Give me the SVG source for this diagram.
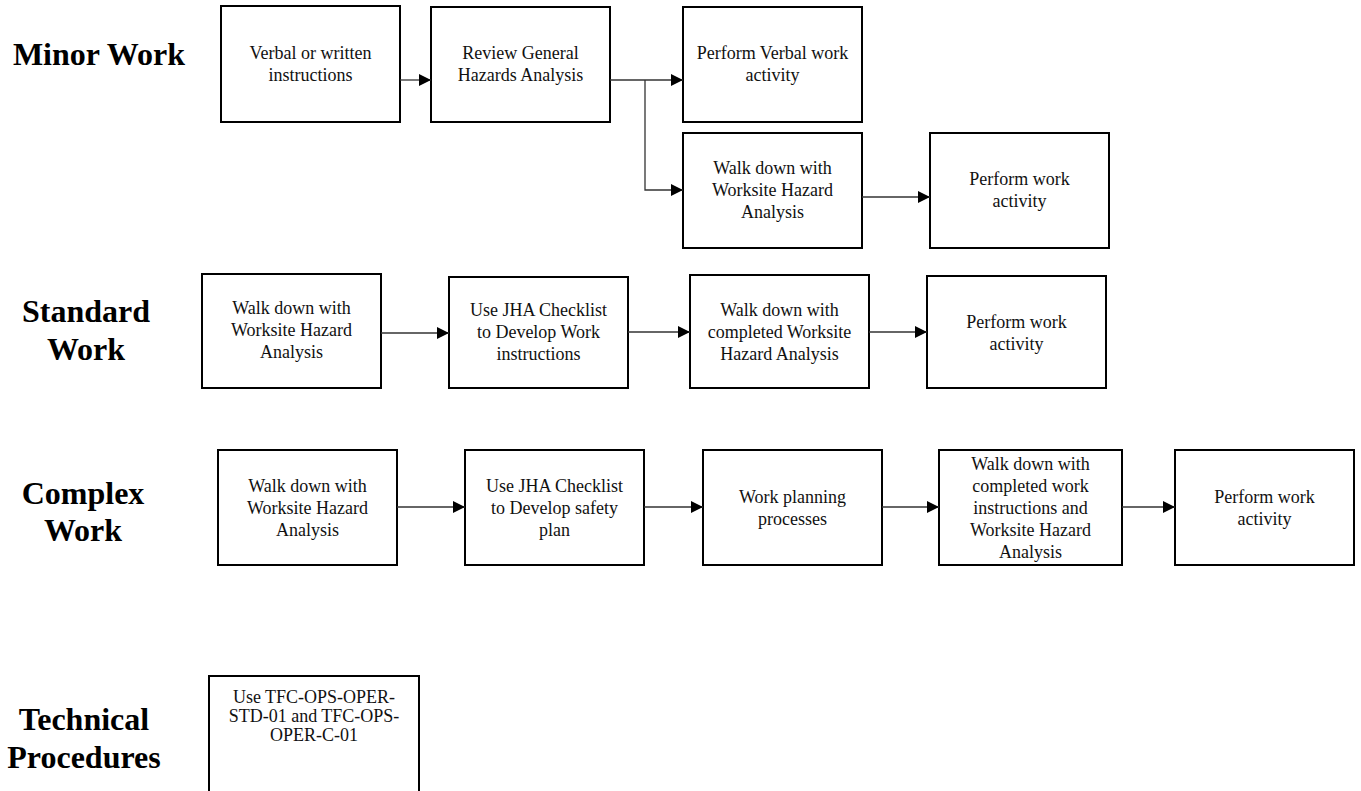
<svg xmlns="http://www.w3.org/2000/svg" width="1361" height="791" viewBox="0 0 1361 791">
<style>
.box{fill:#fff;stroke:#000;stroke-width:2}
.t{font-family:"Liberation Serif","Times New Roman",serif;font-size:18px;fill:#111;text-anchor:middle}
.lbl{font-family:"Liberation Serif","Times New Roman",serif;font-size:32px;font-weight:bold;fill:#000;text-anchor:middle}
.c{fill:none;stroke:#333;stroke-width:1.3}
</style>
<defs>
<marker id="ah" markerUnits="userSpaceOnUse" markerWidth="12" markerHeight="12" refX="12" refY="6" orient="auto">
<path d="M0,0 L12,6 L0,12 z" fill="#000"/>
</marker>
</defs>
<rect width="1361" height="791" fill="#fff"/>

<g id="labels">
<text class="lbl" x="99" y="65">Minor Work</text>
<text class="lbl" x="86" y="322">Standard</text>
<text class="lbl" x="86" y="360">Work</text>
<text class="lbl" x="83" y="504">Complex</text>
<text class="lbl" x="83" y="541">Work</text>
<text class="lbl" x="84" y="730">Technical</text>
<text class="lbl" x="84" y="768">Procedures</text>
</g>

<g id="m1"><rect class="box" x="221" y="6" width="179" height="116"/>
<text class="t" x="310.5" y="59">Verbal or written</text><text class="t" x="310.5" y="81">instructions</text></g>
<g id="m2"><rect class="box" x="431" y="7" width="179" height="115"/>
<text class="t" x="520.5" y="59">Review General</text><text class="t" x="520.5" y="81">Hazards Analysis</text></g>
<g id="m3"><rect class="box" x="683" y="7" width="179" height="115"/>
<text class="t" x="772.5" y="59">Perform Verbal work</text><text class="t" x="772.5" y="81">activity</text></g>
<g id="m4"><rect class="box" x="683" y="133" width="179" height="115"/>
<text class="t" x="772.5" y="174">Walk down with</text><text class="t" x="772.5" y="196">Worksite Hazard</text><text class="t" x="772.5" y="218">Analysis</text></g>
<g id="m5"><rect class="box" x="930" y="133" width="179" height="115"/>
<text class="t" x="1019.5" y="185">Perform work</text><text class="t" x="1019.5" y="207">activity</text></g>

<g id="s1"><rect class="box" x="202" y="274" width="179" height="114"/>
<text class="t" x="291.5" y="314">Walk down with</text><text class="t" x="291.5" y="336">Worksite Hazard</text><text class="t" x="291.5" y="358">Analysis</text></g>
<g id="s2"><rect class="box" x="449" y="277" width="179" height="111"/>
<text class="t" x="538.5" y="316">Use JHA Checklist</text><text class="t" x="538.5" y="338">to Develop Work</text><text class="t" x="538.5" y="360">instructions</text></g>
<g id="s3"><rect class="box" x="690" y="275" width="179" height="113"/>
<text class="t" x="779.5" y="316">Walk down with</text><text class="t" x="779.5" y="338">completed Worksite</text><text class="t" x="779.5" y="360">Hazard Analysis</text></g>
<g id="s4"><rect class="box" x="927" y="276" width="179" height="112"/>
<text class="t" x="1016.5" y="328">Perform work</text><text class="t" x="1016.5" y="350">activity</text></g>

<g id="c1"><rect class="box" x="218" y="450" width="179" height="115"/>
<text class="t" x="307.5" y="492">Walk down with</text><text class="t" x="307.5" y="514">Worksite Hazard</text><text class="t" x="307.5" y="536">Analysis</text></g>
<g id="c2"><rect class="box" x="465" y="450" width="179" height="115"/>
<text class="t" x="554.5" y="492">Use JHA Checklist</text><text class="t" x="554.5" y="514">to Develop safety</text><text class="t" x="554.5" y="536">plan</text></g>
<g id="c3"><rect class="box" x="703" y="450" width="179" height="115"/>
<text class="t" x="792.5" y="503">Work planning</text><text class="t" x="792.5" y="525">processes</text></g>
<g id="c4"><rect class="box" x="939" y="450" width="183" height="115"/>
<text class="t" x="1030.5" y="470">Walk down with</text><text class="t" x="1030.5" y="492">completed work</text><text class="t" x="1030.5" y="514">instructions and</text><text class="t" x="1030.5" y="536">Worksite Hazard</text><text class="t" x="1030.5" y="558">Analysis</text></g>
<g id="c5"><rect class="box" x="1175" y="450" width="179" height="115"/>
<text class="t" x="1264.5" y="503">Perform work</text><text class="t" x="1264.5" y="525">activity</text></g>

<g id="t1"><rect class="box" x="209" y="676" width="210" height="125"/>
<text class="t" x="314" y="703">Use TFC-OPS-OPER-</text><text class="t" x="314" y="722">STD-01 and TFC-OPS-</text><text class="t" x="314" y="741">OPER-C-01</text></g>

<g id="connectors">
<path class="c" d="M400,80 H431" marker-end="url(#ah)"/>
<path class="c" d="M610,80 H683" marker-end="url(#ah)"/>
<path class="c" d="M645,80 V190 H683" marker-end="url(#ah)"/>
<path class="c" d="M862,197 H930" marker-end="url(#ah)"/>
<path class="c" d="M381,333 H449" marker-end="url(#ah)"/>
<path class="c" d="M628,332 H690" marker-end="url(#ah)"/>
<path class="c" d="M869,332 H927" marker-end="url(#ah)"/>
<path class="c" d="M397,507 H465" marker-end="url(#ah)"/>
<path class="c" d="M644,507 H703" marker-end="url(#ah)"/>
<path class="c" d="M882,507 H939" marker-end="url(#ah)"/>
<path class="c" d="M1122,507 H1175" marker-end="url(#ah)"/>
</g>
</svg>
